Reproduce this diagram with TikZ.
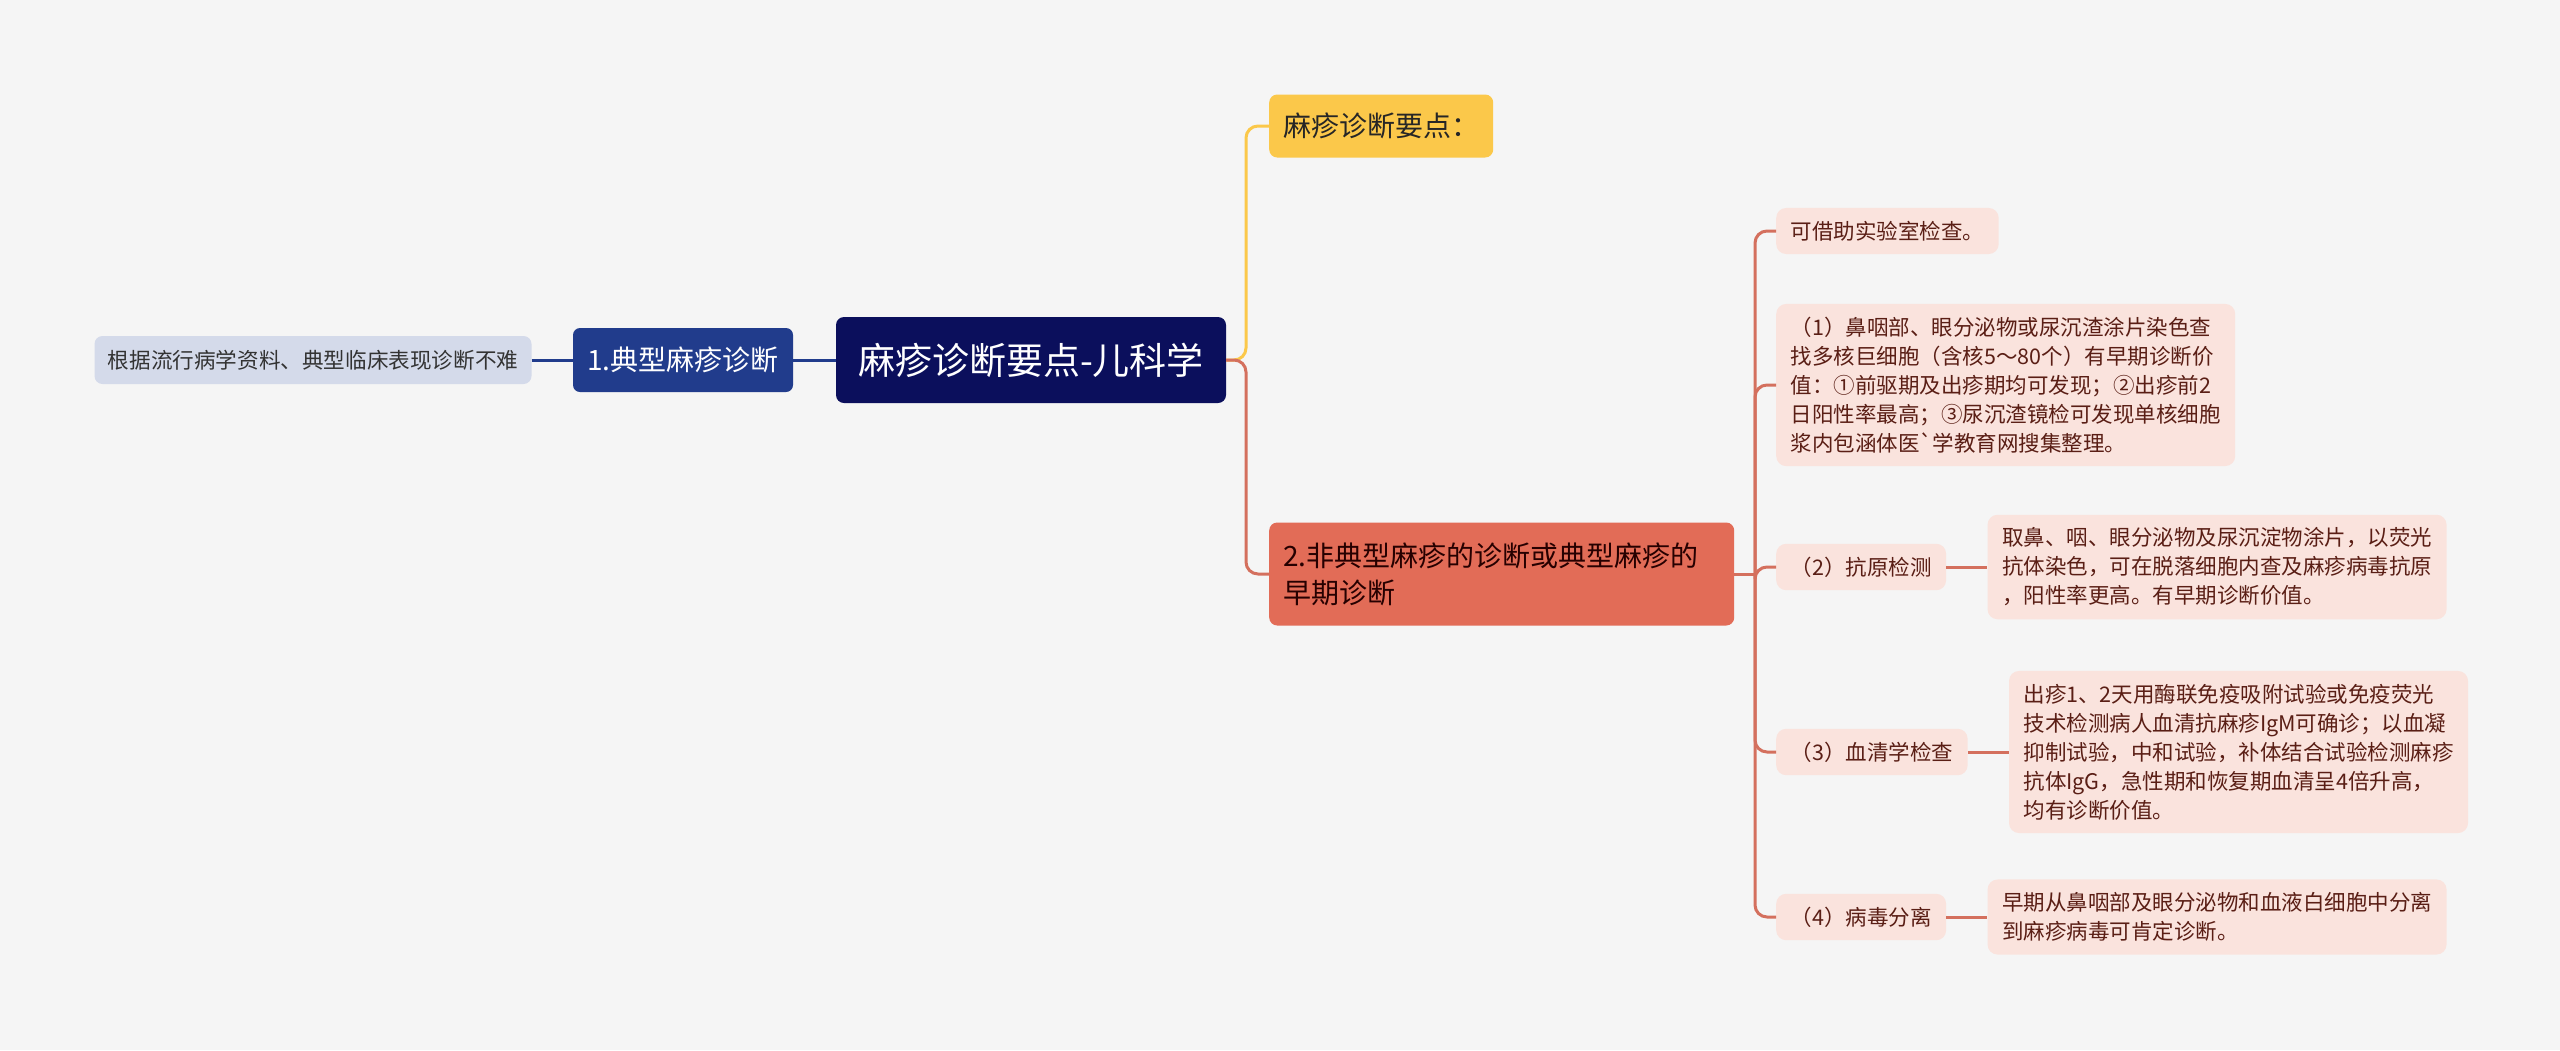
\documentclass[tikz,border=0pt]{standalone}
\usepackage{fontspec}
\usetikzlibrary{positioning}
\newfontfamily\cjk[Ligatures=TeXOff]{Noto Sans CJK SC}

\definecolor{bgcol}{HTML}{F5F5F5}
\definecolor{rootcol}{HTML}{0B0F5C}
\definecolor{bluecol}{HTML}{213C8C}
\definecolor{leafcol}{HTML}{D4DAEA}
\definecolor{yellowcol}{HTML}{FBC84A}
\definecolor{redcol}{HTML}{E26C57}
\definecolor{redline}{HTML}{D4705E}
\definecolor{pinkcol}{HTML}{FAE3DD}
\definecolor{pinktext}{HTML}{5A1E15}

\tikzset{
  rootbox/.style={fill=rootcol, text=white, rounded corners=8pt, minimum width=390pt,
    minimum height=86pt, font=\cjk\fontsize{37}{44}\selectfont},
  topicbox/.style={fill=bluecol, text=white, rounded corners=7pt, minimum width=220pt,
    minimum height=64pt, font=\cjk\fontsize{28}{37}\selectfont},
  leafbox/.style={fill=leafcol, text=black!80, rounded corners=8pt, minimum width=437pt,
    minimum height=48pt, font=\cjk\fontsize{21.6}{29}\selectfont},
  yellowbox/.style={fill=yellowcol, text=black!85, rounded corners=8pt, inner xsep=14pt,
    minimum height=63pt, font=\cjk\fontsize{28}{37}\selectfont},
  redbox/.style={fill=redcol, text=black!85!red, rounded corners=8pt, inner xsep=14pt,
    text width=437pt, align=left, minimum height=103pt, font=\cjk\fontsize{28}{37}\selectfont},
  pinkbox/.style={fill=pinkcol, text=pinktext, rounded corners=10pt, inner xsep=14.5pt,
    inner ysep=13pt, align=left, font=\cjk\fontsize{21.5}{29}\selectfont},
  blueconn/.style={draw=bluecol, line width=3pt},
  yellowconn/.style={draw=yellowcol, line width=3pt, rounded corners=12pt},
  redconn/.style={draw=redline, line width=3pt, rounded corners=12pt},
}

\begin{document}
\begin{tikzpicture}[x=1pt, y=-1pt]

  % Background
  \fill[bgcol] (0,0) rectangle (2560,1050);
  \useasboundingbox (0,0) rectangle (2560,1050);

  % Centre and left side
  \node[rootbox] (root) at (1031,360) {麻疹诊断要点-儿科学};
  \node[topicbox] (typ) at (683,360) {1.典型麻疹诊断};
  \node[leafbox] (typnote) at (313,360) {根据流行病学资料、典型临床表现诊断不难};

  \draw[blueconn] (typnote.east) -- (typ.west);
  \draw[blueconn] (typ.east) -- (root.west);

  % Right side topics
  \node[yellowbox, anchor=west] (points) at (1269,126) {麻疹诊断要点：};
  \node[redbox, anchor=west] (early) at (1269,574)
    {2.非典型麻疹的诊断或典型麻疹的\\早期诊断};

  \coordinate (rootj) at (1246,360);
  \draw[yellowconn] (root.east) -- (rootj) |- (points.west);
  \draw[redconn] (root.east) -- (rootj) |- (early.west);

  % Laboratory checks
  \node[pinkbox, anchor=west] (lab) at (1776,231) {可借助实验室检查。};
  \node[pinkbox, anchor=west] (smear) at (1776,385)
    {（1）鼻咽部、眼分泌物或尿沉渣涂片染色查\\找多核巨细胞（含核5～80个）有早期诊断价\\值：①前驱期及出疹期均可发现；②出疹前2\\日阳性率最高；③尿沉渣镜检可发现单核细胞\\浆内包涵体医`学教育网搜集整理。};
  \node[pinkbox, anchor=west] (antigen) at (1776,567) {（2）抗原检测};
  \node[pinkbox, anchor=west] (serum) at (1776,752) {（3）血清学检查};
  \node[pinkbox, anchor=west] (virus) at (1776,917) {（4）病毒分离};

  \node[pinkbox, anchor=west, right=41pt of antigen] (antigennote)
    {取鼻、咽、眼分泌物及尿沉淀物涂片，以荧光\\抗体染色，可在脱落细胞内查及麻疹病毒抗原\\，阳性率更高。有早期诊断价值。};
  \node[pinkbox, anchor=west, right=41pt of serum] (serumnote)
    {出疹1、2天用酶联免疫吸附试验或免疫荧光\\技术检测病人血清抗麻疹IgM可确诊；以血凝\\抑制试验，中和试验，补体结合试验检测麻疹\\抗体IgG，急性期和恢复期血清呈4倍升高，\\均有诊断价值。};
  \node[pinkbox, anchor=west, right=41pt of virus] (virusnote)
    {早期从鼻咽部及眼分泌物和血液白细胞中分离\\到麻疹病毒可肯定诊断。};

  \coordinate (trunk) at (1755,574);
  \draw[redconn] (early.east) -- (trunk);
  \foreach \n in {lab, smear, antigen, serum, virus}
    \draw[redconn] (trunk) |- (\n.west);

  \draw[redconn] (antigen.east) -- (antigennote.west);
  \draw[redconn] (serum.east) -- (serumnote.west);
  \draw[redconn] (virus.east) -- (virusnote.west);

\end{tikzpicture}
\end{document}
